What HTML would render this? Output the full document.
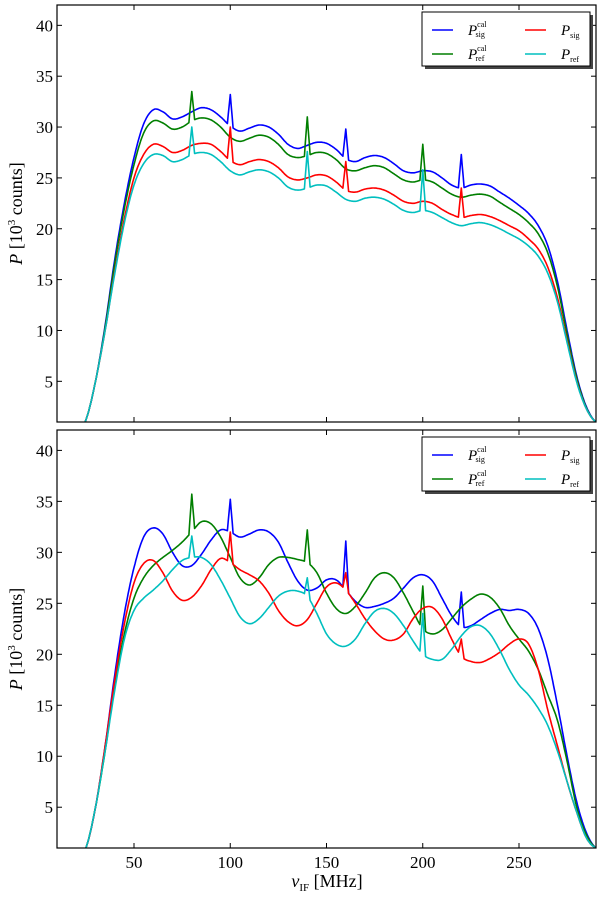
<!DOCTYPE html>
<html><head><meta charset="utf-8"><style>
html,body{margin:0;padding:0;background:#fff;}
svg{display:block;font-family:"Liberation Serif",serif;}
</style></head><body>
<svg id="chart" width="600" height="897" viewBox="0 0 600 897" xmlns="http://www.w3.org/2000/svg"></svg>
<script>
const freqs = [20,25,30,35,40,45,50,55,60,65,70,75,80,85,90,95,100,105,110,115,120,125,130,135,140,145,150,155,160,165,170,175,180,185,190,195,200,205,210,215,220,225,230,235,240,245,250,255,260,265,270,275,280,285,290];
// top panel
const topSigCal = [0,1.2,5,10.5,17,22.5,27,30.3,31.7,31.5,30.8,31,31.5,31.9,31.7,31,30.1,29.6,29.9,30.2,30,29.3,28.3,27.9,28.2,28.5,28.4,27.8,26.9,26.6,27,27.2,27,26.4,25.7,25.5,25.7,25.6,25,24.3,24,24.3,24.4,24.2,23.6,23,22.3,21.5,20.3,18.3,14.8,10,5.5,2.5,1];
const topRefCal = [0,1.2,5,10.3,16.6,22,26.3,29.4,30.6,30.4,29.8,30,30.6,30.9,30.7,30,29,28.6,28.9,29.2,29,28.3,27.3,27,27.2,27.5,27.4,26.8,25.9,25.7,26,26.2,26,25.4,24.8,24.6,24.8,24.6,24,23.4,23.1,23.3,23.4,23.2,22.6,22,21.4,20.6,19.5,17.6,14.3,9.6,5.3,2.4,1];
const topSig = [0,1.2,5,10,15.8,21,25,27.3,28.3,28.1,27.5,27.7,28.2,28.4,28.3,27.6,26.7,26.3,26.6,26.8,26.6,26,25.1,24.8,25,25.3,25.2,24.6,23.8,23.6,23.9,24,23.8,23.3,22.7,22.5,22.7,22.5,21.9,21.4,21.1,21.3,21.4,21.2,20.8,20.3,19.8,19,18,16.2,13.2,9,5,2.3,1];
const topRef = [0,1.2,5,10,15.6,20.6,24.3,26.4,27.3,27.2,26.6,26.8,27.3,27.5,27.3,26.6,25.7,25.3,25.6,25.8,25.6,25,24.1,23.8,24,24.3,24.2,23.6,22.9,22.7,23,23.1,22.9,22.4,21.8,21.6,21.8,21.6,21.1,20.6,20.3,20.5,20.6,20.4,20,19.5,19,18.3,17.3,15.6,12.8,8.8,4.9,2.3,1];
// bottom panel
const botSigCal = [0,1,5,11,18,24,28.5,31.5,32.4,31.8,30,28.7,28.7,29.8,31.2,32.2,32,31.5,31.8,32.2,32,31,29,27.2,26.3,26.5,27.3,27.3,26.3,25.2,24.6,24.7,25,25.5,26.5,27.5,27.8,27.2,25.5,23.8,22.7,22.8,23.4,24,24.4,24.3,24.4,24,22.5,19.5,15,10,5.5,2.5,1];
const botRefCal = [0,1,5,10.5,17,22,25.5,27.5,28.7,29.5,30.2,31,32,33,32.8,31.5,29.5,27.5,26.8,27.5,28.8,29.5,29.5,29.3,29,28,26,24.5,24,24.7,26,27.5,28,27.5,26,24.2,22.5,22,22.4,23.5,24.6,25.4,25.9,25.6,24.5,22.8,21.5,20.3,18.5,16,13.5,9.5,5,2.3,1];
const botSig = [0,1,5,11,17.5,23,27,28.9,29.2,28,26.2,25.3,25.6,26.7,28.3,29.4,29,28.3,27.8,27.2,26,24.3,23.2,22.8,23.4,25,26.6,27,26.3,25,23.5,22.3,21.5,21.4,22,23.5,24.5,24.6,23.5,21.5,19.8,19.3,19.2,19.6,20.2,21,21.5,21,18.5,14.5,11,7.5,4.5,2,1];
const botRef = [0,1,5,10.5,16.5,21.5,24.3,25.5,26.3,27.2,28.3,29.2,29.5,29.5,28.8,27.3,25.5,23.7,23,23.5,24.6,25.7,26.2,26.2,25.7,24,22,21,20.8,21.5,23,24.2,24.5,24,22.8,21.3,20,19.5,19.5,20.5,21.8,22.7,22.8,22,20.4,18.5,17,16,14.7,13,10.5,7.5,4.5,2,1];
// spikes: positions and peak heights
const spikeSigPos = [100,160,220];
const spikeRefPos = [80,140,200];
const topSigCalSpikes = [33.2,29.8,27.3];
const topRefCalSpikes = [33.5,31,28.3];
const topSigSpikes = [30,26.6,24];
const topRefSpikes = [30,27.6,25.8];
const botSigCalSpikes = [35.2,31.1,26.1];
const botRefCalSpikes = [35.7,32.2,26.7];
const botSigSpikes = [32,28,21.5];
const botRefSpikes = [31.6,27.5,24];
const yTicks = [5,10,15,20,25,30,35,40];
const xTicks = [50,100,150,200,250];

const NS="http://www.w3.org/2000/svg";
const svg=document.getElementById('chart');
const X0=57,X1=596, XMIN=10, XMAX=290, YMIN=1, YMAX=42;
const panels=[{top:5,bot:422,name:'top'},{top:430,bot:848,name:'bottom'}];
function sx(v){return X0+(v-XMIN)/(XMAX-XMIN)*(X1-X0);}
function mk(tag,attrs,parent){const e=document.createElementNS(NS,tag);for(const k in attrs)e.setAttribute(k,attrs[k]);(parent||svg).appendChild(e);return e;}
function interp(arr,f){
  const step=5, i=Math.floor((f-freqs[0])/step);
  const i1=Math.max(0,Math.min(arr.length-2,i));const t=(f-freqs[i1])/step;
  const p0=arr[Math.max(0,i1-1)],p1=arr[i1],p2=arr[i1+1],p3=arr[Math.min(arr.length-1,i1+2)];
  return 0.5*((2*p1)+(-p0+p2)*t+(2*p0-5*p1+4*p2-p3)*t*t+(-p0+3*p1-3*p2+p3)*t*t*t);
}
const colors={sigcal:'#0000ff',refcal:'#007f00',sig:'#ff0000',ref:'#00bfbf'};
panels.forEach((p,pi)=>{
  const sy=v=>p.bot-(v-YMIN)/(YMAX-YMIN)*(p.bot-p.top);
  const g=mk('g',{});
  
  
  const clipId='clip'+pi;
  const cp=mk('clipPath',{id:clipId},g);mk('rect',{x:X0,y:p.top,width:X1-X0,height:p.bot-p.top},cp);
  const series = pi===0 ?
    [['sigcal',topSigCal,spikeSigPos,topSigCalSpikes],['refcal',topRefCal,spikeRefPos,topRefCalSpikes],['sig',topSig,spikeSigPos,topSigSpikes],['ref',topRef,spikeRefPos,topRefSpikes]] :
    [['sigcal',botSigCal,spikeSigPos,botSigCalSpikes],['refcal',botRefCal,spikeRefPos,botRefCalSpikes],['sig',botSig,spikeSigPos,botSigSpikes],['ref',botRef,spikeRefPos,botRefSpikes]];
  series.forEach(([key,arr,sp,sh])=>{
    let pts=[];
    for(let f=freqs[0];f<=freqs[freqs.length-1];f+=0.5){
      let v=interp(arr,f);
      sp.forEach((s,k)=>{const d=Math.abs(f-s);if(d<1.6){const base=interp(arr,s);v+= (sh[k]-base)*Math.max(0,1-d/1.5);}});
      pts.push(sx(f).toFixed(1)+','+sy(v).toFixed(1));
    }
    const path=mk('polyline',{points:pts.join(' '),fill:'none',stroke:colors[key],'stroke-width':1.6,'stroke-linejoin':'round','clip-path':'url(#'+clipId+')'},g);
    
    
  });
  const frame=mk('rect',{x:X0,y:p.top,width:X1-X0,height:p.bot-p.top,fill:'none',stroke:'#000','stroke-width':1.2},g);
  
  
  yTicks.forEach(t=>{
    const y=sy(t);
    mk('line',{x1:X0,x2:X0+5,y1:y,y2:y,stroke:'#000'},g);
    mk('line',{x1:X1-5,x2:X1,y1:y,y2:y,stroke:'#000'},g);
    const tx=mk('text',{x:X0-4,y:y+6,'text-anchor':'end','font-size':17},g);tx.textContent=t;
    
    
  });
  xTicks.forEach(t=>{
    const x=sx(t);
    mk('line',{x1:x,x2:x,y1:p.bot,y2:p.bot-5,stroke:'#000'},g);
    mk('line',{x1:x,x2:x,y1:p.top,y2:p.top+5,stroke:'#000'},g);
    if(pi===1){const tx=mk('text',{x:x,y:p.bot+20,'text-anchor':'middle','font-size':17},g);tx.textContent=t;
      
      }
  });
  const yl=mk('text',{x:0,y:0,'text-anchor':'middle','font-size':18,transform:'translate(22,'+((p.top+p.bot)/2)+') rotate(-90)'},g);
  yl.innerHTML='<tspan font-style="italic">P</tspan> [10<tspan font-size="11" dy="-7">3</tspan><tspan dy="7"> counts]</tspan>';
  
  
  // legend
  const ly=p.top+7;
  const lg=mk('g',{},g);
  
  
  mk('rect',{x:425,y:ly+3,width:168,height:54,fill:'#444'},lg);
  mk('rect',{x:422,y:ly,width:168,height:54,fill:'#fff',stroke:'#000','stroke-width':1},lg);
  const ents=[['sigcal',432,ly+18,'sig','cal'],['sig',525,ly+18,'sig',''],['refcal',432,ly+42,'ref','cal'],['ref',525,ly+42,'ref','']];
  ents.forEach(([k,x,y,sub,sup])=>{
    const e=mk('g',{},lg);
    
    
    mk('line',{x1:x,x2:x+21,y1:y,y2:y,stroke:colors[k],'stroke-width':1.4},e);
    const t=mk('text',{x:x+36,y:y+5,'font-size':15},e);
    t.innerHTML='<tspan font-style="italic">P</tspan>'+(sup?'<tspan font-size="8" dy="-8">'+sup+'</tspan><tspan font-size="8" dx="-11" dy="10">'+sub+'</tspan>':'<tspan font-size="8" dy="3">'+sub+'</tspan>');
  });
});
const xl=mk('text',{x:327,y:887,'text-anchor':'middle','font-size':18});
xl.innerHTML='<tspan font-style="italic">ν</tspan><tspan font-size="11" dy="4">IF</tspan><tspan dy="-4"> [MHz]</tspan>';


</script>
</body></html>
